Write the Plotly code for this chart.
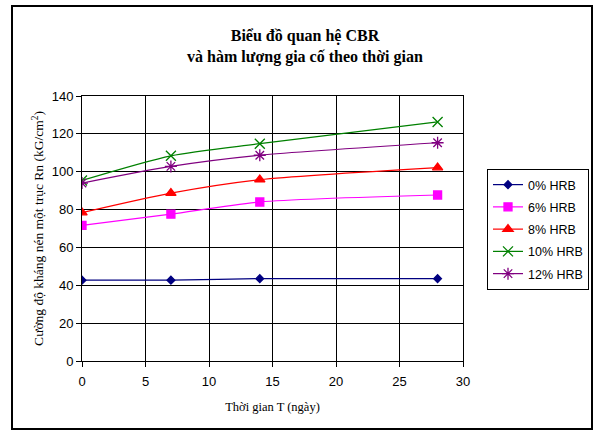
import plotly.graph_objects as go

# Curing time (days)
days = [0, 7, 14, 28]

# Unconfined compressive strength Rn (kG/cm2) for each HRB binder content
series_names = ["0% HRB", "6% HRB", "8% HRB", "10% HRB", "12% HRB"]
rn_0 = [42.7, 42.7, 43.5, 43.5]
rn_6 = [71.6, 77.6, 84.0, 87.7]
rn_8 = [78.4, 88.7, 95.8, 102.2]
rn_10 = [95.4, 108.4, 114.8, 126.3]
rn_12 = [94.0, 102.8, 108.7, 115.3]

x_ticks = [0, 5, 10, 15, 20, 25, 30]
y_ticks = [0, 20, 40, 60, 80, 100, 120, 140]

styles = [
    dict(color="#000080", symbol="diamond", size=6),
    dict(color="#FF00FF", symbol="square", size=8),
    dict(color="#FF0000", symbol="triangle-up", size=9),
    dict(color="#008000", symbol="x-thin-open", size=10),
    dict(color="#800080", symbol="asterisk-open", size=10),
]

fig = go.Figure()
for i, (name, vals, st) in enumerate(zip(series_names, [rn_0, rn_6, rn_8, rn_10, rn_12], styles)):
    fig.add_trace(go.Scatter(
        x=days, y=vals, name=name, mode="lines+markers",
        legendgroup=f"g{i}",
        line=dict(color=st["color"], width=1.2, shape="spline", smoothing=0.7),
        marker=dict(symbol=st["symbol"], size=st["size"], color=st["color"],
                    line=dict(color=st["color"], width=1.3)),
    ))

serif = "Liberation Serif"
sans = "Liberation Sans"

fig.update_layout(
    width=593, height=430,
    margin=dict(l=82, r=130, t=96, b=69, autoexpand=False),
    paper_bgcolor="white", plot_bgcolor="white",
    title=dict(
        text="<b>Biểu đồ quan hệ CBR<br>và hàm lượng gia cố theo thời gian</b>",
        x=305 / 593, xanchor="center", y=1 - 41 / 430, yanchor="middle",
        font=dict(family=serif, size=16, color="black"),
    ),
    xaxis=dict(
        range=[0, 30], tickvals=x_ticks, ticks="outside", ticklen=5,
        tickcolor="black", showline=True, linecolor="black", linewidth=1,
        mirror=True, showgrid=True, gridcolor="black", gridwidth=1,
        zeroline=False, tickfont=dict(family=sans, size=13, color="black"),
        ticklabelstandoff=3,
        title=dict(text="Thời gian T (ngày)", standoff=14,
                   font=dict(family=serif, size=12.5, color="black")),
    ),
    yaxis=dict(
        range=[0, 140], tickvals=y_ticks, ticks="outside", ticklen=5,
        tickcolor="black", showline=True, linecolor="black", linewidth=1,
        mirror=True, showgrid=True, gridcolor="black", gridwidth=1,
        zeroline=False, tickfont=dict(family=sans, size=13, color="black"),
        title=dict(text="Cường độ kháng nén một trục Rn (kG/cm<sup>2</sup>)",
                   standoff=4, font=dict(family=serif, size=13.5, color="black")),
    ),
    legend=dict(
        x=(487 - 82) / 381, xanchor="left", y=(361 - 169) / 265, yanchor="top",
        bordercolor="black", borderwidth=1, bgcolor="white",
        font=dict(family=sans, size=12.5, color="black"),
        tracegroupgap=3, itemwidth=30,
    ),
    showlegend=True,
)

# Outer chart frame
fig.add_shape(type="rect", xref="paper", yref="paper",
              x0=(12 - 82) / 381, x1=(592 - 82) / 381,
              y0=(361 - 429) / 265, y1=(361 - 6) / 265,
              line=dict(color="black", width=2), fillcolor="rgba(0,0,0,0)",
              layer="below")

fig.write_html("out.html")
